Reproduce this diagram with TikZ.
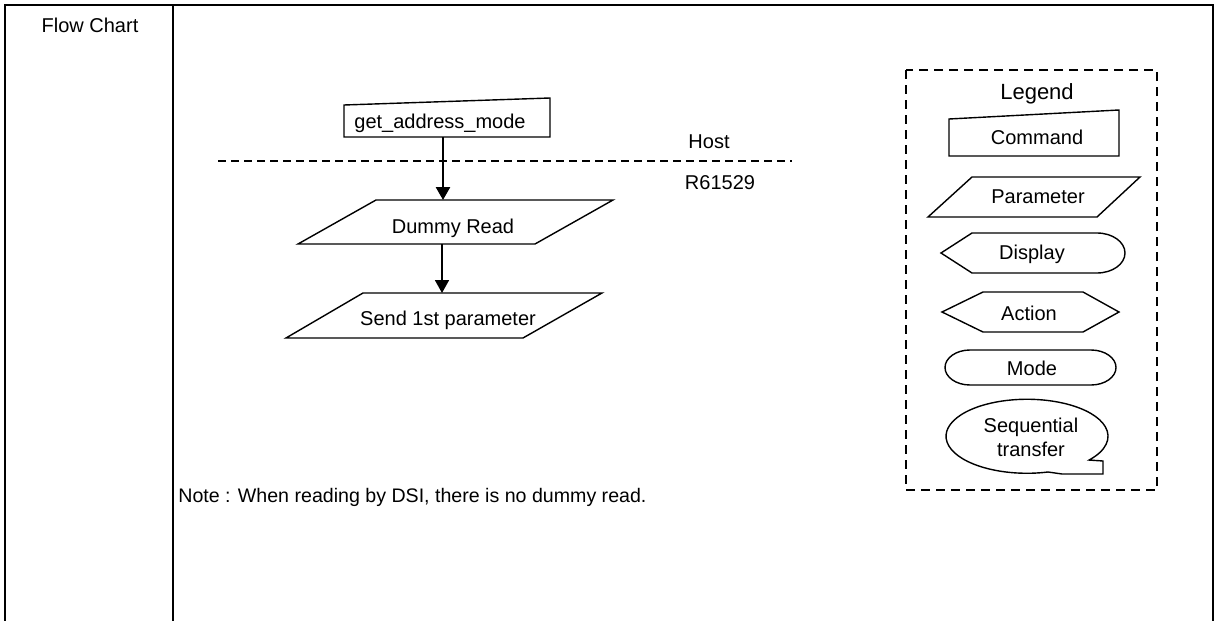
\documentclass[tikz,border=0pt]{standalone}
\usepackage{fontspec}
\setmainfont{Liberation Sans}
\usetikzlibrary{arrows.meta}
\tikzset{
  txt/.style   = {inner sep=0pt, font=\fontsize{10pt}{12pt}\selectfont,
                  text height=0.72em, text depth=0pt},
  box/.style   = {draw, line width=0.7pt, line join=miter},
  frame/.style = {draw, line width=1.2pt},
  bound/.style = {draw, line width=0.8pt, dash pattern=on 4pt off 2.5pt}, % host / chip border
  lgd/.style   = {draw, line width=0.8pt, dash pattern=on 4.5pt off 3pt},
  flow/.style  = {-{Triangle[length=6.5pt,width=7pt]}}
}

\begin{document}
\begin{tikzpicture}[x=0.5pt,y=-0.5pt]
\useasboundingbox (0,0) rectangle (1216,621);
% table frame
\draw[frame] (5,621) -- (5,5) -- (1213,5) -- (1213,621);
\draw[frame] (173,5) -- (173,621);
\node[txt] (title) at (90,25) {Flow Chart};

% host / R61529 border
\draw[bound] (218,161) -- (792,161);
\node[txt] (host) at (709,141) {Host};
\node[txt] (chip) at (720,182) {R61529};

% flow
\draw[box] (344,137) -- (344,105) -- (550,98) -- (550,137) -- cycle;
\node[txt] (cmd) at (440,121) {get\_address\_mode};
\draw[box] (298,244) -- (376,200) -- (613,200) -- (535,244) -- cycle;
\node[txt] (dummy) at (453,226) {Dummy Read};
\draw[box] (286,338) -- (363,293) -- (602,293) -- (523,338) -- cycle;
\node[txt] (send) at (448,318) {Send 1st parameter};

\coordinate (cmd-out)   at (443,137);
\coordinate (dummy-in)  at (443,200);
\coordinate (dummy-out) at (442,244);
\coordinate (send-in)   at (442,293);
\draw[flow, line width=1.3pt] (cmd-out) -- (dummy-in);
\draw[flow, line width=0.9pt] (dummy-out) -- (send-in);

% legend
\draw[lgd] (906,70) rectangle (1157,490);
\node[txt, font=\fontsize{11pt}{13pt}\selectfont] (legend) at (1037,92) {Legend};
\draw[box] (949,156) -- (949,119) -- (1119,110) -- (1119,156) -- cycle;
\node[txt] (l-cmd) at (1037,137) {Command};
\draw[box] (928,217) -- (972,177) -- (1140,177) -- (1097,217) -- cycle;
\node[txt] (l-par) at (1038,196) {Parameter};
\draw[box] (941,253) -- (972,233) -- (1097,233)
  arc[start angle=-90, end angle=90, x radius=28, y radius=20] -- (972,273) -- cycle;
\node[txt] (l-dsp) at (1032,252) {Display};
\draw[box] (942,312) -- (983,292) -- (1083,292) -- (1119,312) -- (1083,332) -- (983,332) -- cycle;
\node[txt] (l-act) at (1029,313) {Action};
\draw[box] (970,350) -- (1091,350)
  arc[start angle=-90, end angle=90, x radius=25, y radius=17.5] -- (970,385)
  arc[start angle=90, end angle=270, x radius=25, y radius=17.5] -- cycle;
\node[txt] (l-mode) at (1032,368) {Mode};
\draw[box] (1048,472) arc[start angle=75, end angle=400, x radius=81, y radius=37]
  -- (1103,461) -- (1103,474) -- (1062,474) -- cycle;
\node[txt, align=center, text height=, text depth=] (l-seq) at (1031,437) {Sequential\\transfer};

% note
\node[txt, anchor=west, font=\fontsize{9.8pt}{12pt}\selectfont] (note) at (178,495)
  {Note : When reading by DSI, there is no dummy read.};
\end{tikzpicture}
\end{document}
